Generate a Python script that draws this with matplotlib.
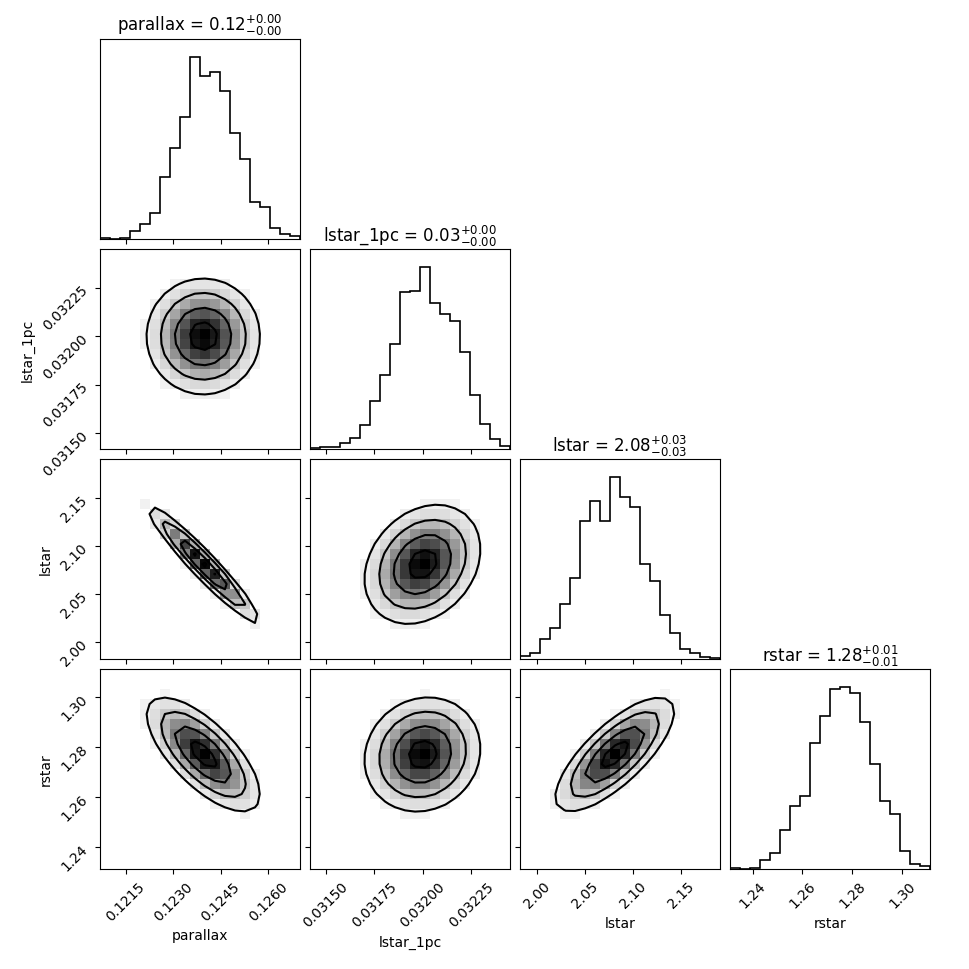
import numpy as np
import matplotlib
matplotlib.use("Agg")
import matplotlib.pyplot as plt

# parameter names, medians and plot ranges
names = ["parallax", "lstar_1pc", "lstar", "rstar"]
titles = [r"parallax = $0.12_{-0.00}^{+0.00}$", r"lstar_1pc = $0.03_{-0.00}^{+0.00}$",
          r"lstar = $2.08_{-0.03}^{+0.03}$", r"rstar = $1.28_{-0.01}^{+0.01}$"]
ranges = [(0.12068, 0.12701), (0.031419, 0.032452), (1.9826, 2.1905), (1.2310, 1.3113)]
ticks = [[0.1215, 0.1230, 0.1245, 0.1260], [0.03150, 0.03175, 0.03200, 0.03225],
         [2.00, 2.05, 2.10, 2.15], [1.24, 1.26, 1.28, 1.30]]
tick_fmt = ["%.4f", "%.5f", "%.2f", "%.2f"]

# 1D histogram counts (20 bins each)
hist_parallax = [2, 0, 2, 22, 44, 77, 185, 270, 362, 542, 485, 497, 440, 314, 237, 109, 94, 32, 14, 7]
hist_lstar_1pc = [2, 7, 7, 17, 34, 72, 142, 219, 312, 467, 470, 542, 434, 402, 380, 290, 162, 74, 29, 9]
hist_lstar = [9, 17, 60, 92, 164, 240, 410, 472, 410, 542, 482, 452, 284, 232, 132, 77, 29, 17, 7, 2]
hist_rstar = [2, 0, 2, 27, 47, 115, 189, 219, 377, 455, 537, 542, 524, 437, 314, 204, 165, 55, 14, 9]
hists = [hist_parallax, hist_lstar_1pc, hist_lstar, hist_rstar]

# centre, spread and correlations estimated from the 2D panels
centers = [0.12395, 0.032000, 2.081, 1.277]
spreads = [0.00090, 0.00015, 0.031, 0.0115]
corr = np.array([[1.0, 0.0, -0.95, -0.70],
                 [0.0, 1.0, 0.25, 0.10],
                 [-0.95, 0.25, 1.0, 0.75],
                 [-0.70, 0.10, 0.75, 1.0]])

nb = 20
fig, axes = plt.subplots(4, 4, figsize=(9.7, 9.7), dpi=100)
fig.subplots_adjust(left=0.103, right=0.959, bottom=0.103, top=0.959, wspace=0.05, hspace=0.05)

for i in range(4):
    for j in range(4):
        ax = axes[i, j]
        if j > i:
            ax.set_visible(False)
            continue
        if i == j:
            edges = np.linspace(*ranges[i], nb + 1)
            ax.stairs(hists[i], edges, color="k", lw=1.2)
            ax.set_xlim(ranges[i])
            ax.set_ylim(0, max(hists[i]) * 1.1)
            ax.set_yticks([])
            ax.set_title(titles[i], fontsize=12)
        else:
            xe = np.linspace(*ranges[j], nb + 1)
            ye = np.linspace(*ranges[i], nb + 1)
            xc = 0.5 * (xe[1:] + xe[:-1])
            yc = 0.5 * (ye[1:] + ye[:-1])
            X, Y = np.meshgrid(xc, yc)
            u = (X - centers[j]) / spreads[j]
            v = (Y - centers[i]) / spreads[i]
            r = corr[i, j]
            m2 = (u ** 2 - 2 * r * u * v + v ** 2) / (1 - r ** 2)
            dens = np.exp(-0.5 * m2)
            dens[m2 > 4.5] = 0
            ax.pcolormesh(xe, ye, dens, cmap="Greys", vmin=0, vmax=1.0)
            ax.contour(X, Y, m2, levels=[0.25, 1.0, 2.25, 4.0], colors="k", linewidths=1.5)
            ax.set_xlim(ranges[j])
            ax.set_ylim(ranges[i])
            ax.set_yticks(ticks[i])
            if j == 0:
                ax.set_yticklabels([tick_fmt[i] % t for t in ticks[i]], rotation=45)
                ax.set_ylabel(names[i])
            else:
                ax.set_yticklabels([])
        ax.set_xticks(ticks[j])
        if i == 3:
            ax.set_xticklabels([tick_fmt[j] % t for t in ticks[j]], rotation=45)
            ax.set_xlabel(names[j])
        else:
            ax.set_xticklabels([])

fig.savefig("out.png", dpi=100)
